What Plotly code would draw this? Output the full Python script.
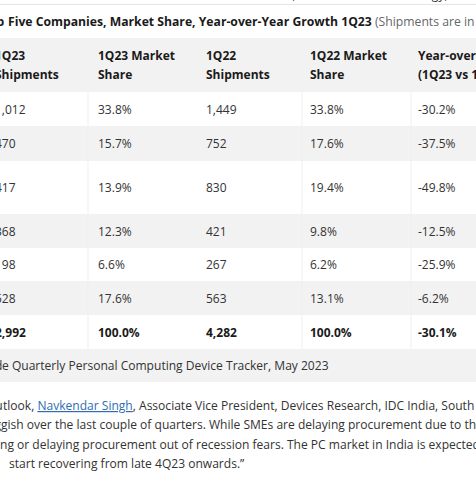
import plotly.graph_objects as go

W, H = 476, 477

# ---------------- data (text content) ----------------
top_line_left = "The market declined in the commercial sector,"
top_line_right = "while the overall strategy,"
title_prefix = "Top"
title_main = "Five Companies, Market Share, Year-over-Year Growth 1Q23"
title_note = "(Shipments are in thousands)"
header_line1 = ["1Q23", "1Q23 Market", "1Q22", "1Q22 Market", "Year-over-Year Growth"]
header_line2 = ["Shipments", "Share", "Shipments", "Share", "(1Q23 vs 1Q22)"]
shipments_1q23 = ["1,012", "470", "417", "368", "198", "528", "2,992"]
share_1q23 = ["33.8%", "15.7%", "13.9%", "12.3%", "6.6%", "17.6%", "100.0%"]
shipments_1q22 = ["1,449", "752", "830", "421", "267", "563", "4,282"]
share_1q22 = ["33.8%", "17.6%", "19.4%", "9.8%", "6.2%", "13.1%", "100.0%"]
yoy_growth = ["-30.2%", "-37.5%", "-49.8%", "-12.5%", "-25.9%", "-6.2%", "-30.1%"]
source_prefix = "Source: IDC Worldwid"
source_rest = "e Quarterly Personal Computing Device Tracker, May 2023"
analyst_name = "Navkendar Singh"
quote_prefixes = ["Commenting on the ou", "remained slug", "large enterprises are pausi", "to"]
quote_rests = [
    "tlook, {NAME}, Associate Vice President, Devices Research, IDC India, South Asia & ANZ said,",
    "gish over the last couple of quarters. While SMEs are delaying procurement due to the inflation,",
    "ng or delaying procurement out of recession fears. The PC market in India is expected to",
    "start recovering from late 4Q23 onwards.\u201d",
]

# ---------------- style / layout constants ----------------
FONT = "Open Sans"
BODY = "#333333"
BOLD = "#1a1a1a"
NOTE = "#666666"
LINK = "#2f6db3"
GRAY_BG = "#f2f2f2"
RULE = "#e6e6e6"
VLINE = "#efefef"
TEXT_SIZE = 12
TITLE_SIZE = 12.2
PARA_SIZE = 12.05

col_x = [-5, 98, 206, 310, 418]
header_top, header_bottom = 38, 92
header_y = [55.5, 74]
row_edges = [92, 126, 161, 214, 248, 281, 315, 349]
gray_rows = [1, 3, 5]
source_band = (349, 382)
source_split_x = 1.5
vlines_x = [88, 302, 411]
quote_y = [405, 424.5, 444, 463.5]
quote_split_x = [2.5, 1.2, 0.3, -0.5]
quote_rest_x = [2.5, 1.2, 0.3, 8.7]
title_split = (4.5, 7.8)

fig = go.Figure()
fig.add_trace(go.Scatter(x=[0, W], y=[0, H], mode="markers",
                         marker=dict(opacity=0), hoverinfo="skip", showlegend=False))


def add_text(x, y, text, size=TEXT_SIZE, color=BODY, bold=False, xanchor="left",
             yanchor="middle", yshift=0):
    xa = max(x, 0)
    fig.add_annotation(
        x=xa, y=max(y, 0), xref="x", yref="y", text=text, showarrow=False,
        xanchor=xanchor, yanchor=yanchor, xshift=x - xa,
        yshift=yshift + (-(y) if y < 0 else 0),
        borderpad=0, borderwidth=0, align="left",
        font=dict(family=FONT, size=size, color=color,
                  weight="bold" if bold else "normal"),
    )


shapes = []
# top rule
shapes.append(dict(type="line", xref="x", yref="y", x0=0, x1=W, y0=4.5, y1=4.5,
                   line=dict(color=RULE, width=1), layer="below"))
# header background
shapes.append(dict(type="rect", xref="x", yref="y", x0=0, x1=W, y0=header_top,
                   y1=header_bottom, fillcolor=GRAY_BG, line=dict(width=0), layer="below"))
# striped rows
for i in gray_rows:
    shapes.append(dict(type="rect", xref="x", yref="y", x0=0, x1=W, y0=row_edges[i],
                       y1=row_edges[i + 1], fillcolor=GRAY_BG, line=dict(width=0),
                       layer="below"))
# source band
shapes.append(dict(type="rect", xref="x", yref="y", x0=0, x1=W, y0=source_band[0],
                   y1=source_band[1], fillcolor=GRAY_BG, line=dict(width=0), layer="below"))
# faint column dividers
for vx in vlines_x:
    shapes.append(dict(type="line", xref="x", yref="y", x0=vx, x1=vx, y0=row_edges[0],
                       y1=row_edges[-1], line=dict(color=VLINE, width=1), layer="below"))

# partial line of text at the very top (only descenders visible)
add_text(296, 0, top_line_left, size=PARA_SIZE, xanchor="right", yanchor="bottom", yshift=-3.5)
add_text(448, 0, top_line_right, size=PARA_SIZE, xanchor="right", yanchor="bottom", yshift=-3.5)

# title
add_text(title_split[0], 21, "<b>%s</b>" % title_prefix, size=TITLE_SIZE, color=BOLD,
         xanchor="right")
add_text(title_split[1], 21,
         "<b>%s</b> <span style='color:%s'>%s</span>" % (title_main, NOTE, title_note),
         size=TITLE_SIZE, color=BOLD)

# header
for c in range(5):
    add_text(col_x[c], header_y[0], header_line1[c], color=BOLD, bold=True)
    add_text(col_x[c], header_y[1], header_line2[c], color=BOLD, bold=True)

# body cells
columns = [shipments_1q23, share_1q23, shipments_1q22, share_1q22, yoy_growth]
n_rows = len(shipments_1q23)
for r in range(n_rows):
    yc = (row_edges[r] + row_edges[r + 1]) / 2
    is_total = r == n_rows - 1
    for c, col in enumerate(columns):
        add_text(col_x[c], yc, col[r], color=BOLD if is_total else BODY, bold=is_total)

# source line
src_y = (source_band[0] + source_band[1]) / 2
add_text(source_split_x, src_y, source_prefix, size=PARA_SIZE, xanchor="right")
add_text(source_split_x, src_y, source_rest, size=PARA_SIZE)

# quote paragraph
link_html = "<span style='color:%s'><u>%s</u></span>" % (LINK, analyst_name)
for i in range(4):
    add_text(quote_split_x[i], quote_y[i], quote_prefixes[i], size=PARA_SIZE, xanchor="right")
    add_text(quote_rest_x[i], quote_y[i], quote_rests[i].replace("{NAME}", link_html),
             size=PARA_SIZE)

fig.update_layout(
    width=W, height=H, margin=dict(l=0, r=0, t=0, b=0),
    paper_bgcolor="white", plot_bgcolor="white",
    xaxis=dict(range=[0, W], visible=False, fixedrange=True),
    yaxis=dict(range=[H, 0], visible=False, fixedrange=True),
    shapes=shapes, showlegend=False,
)

fig.write_html(
    "out.html",
    config={"displayModeBar": False},
    post_script="document.body.style.margin='0';document.body.style.overflow='hidden';",
)
